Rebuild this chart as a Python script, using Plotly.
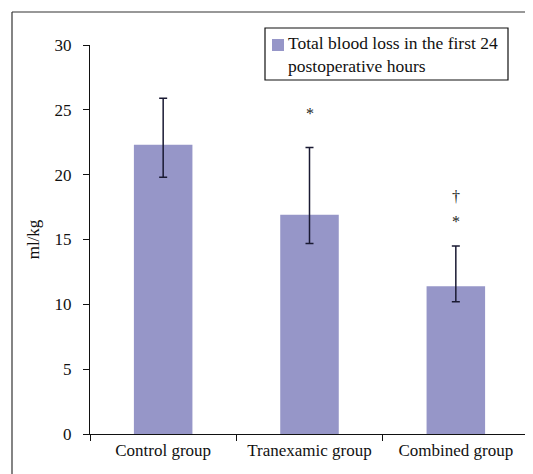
import plotly.graph_objects as go

categories = ["Control group", "Tranexamic group", "Combined group"]
means = [22.3, 16.9, 11.4]
upper = [25.9, 22.1, 14.5]
lower = [19.8, 14.7, 10.2]
y_ticks = [0, 5, 10, 15, 20, 25, 30]
marks = [("Tranexamic group", 24.7, "*"), ("Combined group", 18.3, "†"), ("Combined group", 16.4, "*")]
legend_text = "Total blood loss in the first 24<br>postoperative hours"

err_plus = [u - m for u, m in zip(upper, means)]
err_minus = [m - l for m, l in zip(means, lower)]

FONT = "Liberation Serif"
BAR = "#9696C8"

# page offset (body margin) compensation
OFF = 8
W, H = 533 - OFF, 474 - OFF
# plot area in page pixels
PX0, PX1, PY0, PY1 = 90, 529, 45, 434
L = PX0 - OFF
T = PY0 - OFF
pw, ph = PX1 - PX0, PY1 - PY0
R = W - L - pw
B = H - T - ph


def xp(px):
    return (px - PX0) / pw


def yp(py):
    return (PY1 - py) / ph


fig = go.Figure()
fig.add_trace(go.Bar(
    x=categories, y=means,
    name="Total blood loss in the first 24 postoperative hours",
    marker=dict(color=BAR, line=dict(width=0)),
    error_y=dict(type="data", symmetric=False, array=err_plus, arrayminus=err_minus,
                 color="#1a1a33", thickness=1.5, width=4),
    showlegend=False,
))

for cat, yv, txt in marks:
    fig.add_annotation(x=cat, y=yv, xref="x", yref="y", text=txt, showarrow=False,
                       font=dict(family=FONT, size=16, color="#222222"))

# outer frame (only top and left edges are visible in the reference)
fig.add_shape(type="line", xref="paper", yref="paper",
              x0=xp(12), x1=xp(540), y0=yp(12), y1=yp(12),
              line=dict(color="#333333", width=1.2))
fig.add_shape(type="line", xref="paper", yref="paper",
              x0=xp(12), x1=xp(12), y0=yp(12), y1=yp(490),
              line=dict(color="#333333", width=1.2))

# legend box
fig.add_shape(type="rect", xref="paper", yref="paper",
              x0=xp(265), x1=xp(508), y0=yp(80), y1=yp(28),
              line=dict(color="#111111", width=1.2), fillcolor="white")
fig.add_shape(type="rect", xref="paper", yref="paper",
              x0=xp(272), x1=xp(284), y0=yp(51), y1=yp(39),
              line=dict(width=0), fillcolor=BAR)
fig.add_annotation(xref="paper", yref="paper", x=xp(286), y=yp(31),
                   xanchor="left", yanchor="top", align="left", showarrow=False,
                   text=legend_text,
                   font=dict(family=FONT, size=17.5, color="#111111"))

fig.update_layout(
    width=W, height=H,
    margin=dict(l=L, r=R, t=T, b=B, autoexpand=False),
    paper_bgcolor="white", plot_bgcolor="white",
    font=dict(family=FONT, size=17, color="#111"),
    bargap=0.6,
    showlegend=False,
    xaxis=dict(showline=True, linecolor="#111", linewidth=1.2, ticks="outside",
               tickson="boundaries", ticklen=6, tickcolor="#111", showgrid=False,
               automargin=False,
               tickfont=dict(family=FONT, size=17, color="#111")),
    yaxis=dict(range=[0, 30], tickvals=y_ticks, showline=True, linecolor="#111", linewidth=1.2,
               ticks="outside", ticklen=6, tickcolor="#111", showgrid=False, zeroline=False,
               automargin=False, ticklabelstandoff=8,
               tickfont=dict(family=FONT, size=17, color="#111")),
)
fig.update_yaxes(title=dict(text="ml/kg", font=dict(family=FONT, size=17, color="#111"), standoff=10))

fig.write_html("out.html")
